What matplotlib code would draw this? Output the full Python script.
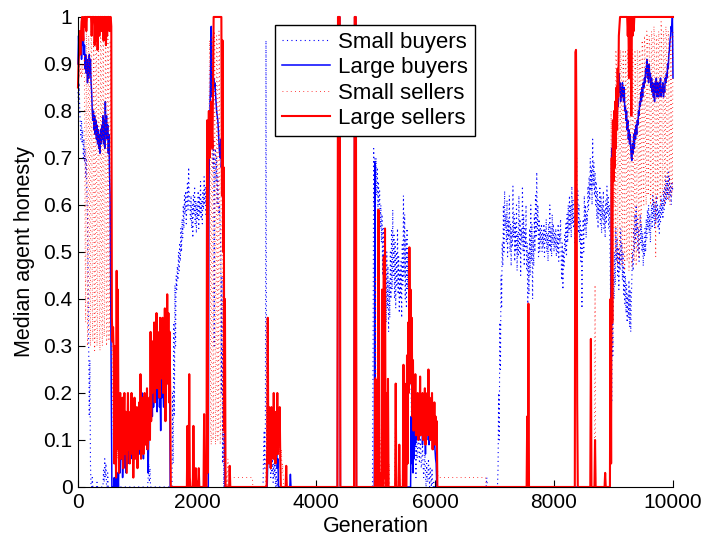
import matplotlib
matplotlib.use('Agg')
import matplotlib.pyplot as plt

plt.rcParams['font.family'] = ['Liberation Sans', 'DejaVu Sans']

# every segment is sampled every STEP generations from its start
STEP = 10

# Large sellers (red solid)
large_sellers_start = [0, 1830, 3170, 4360, 4640, 4990, 7540, 8350, 8610, 8850, 10000]
large_sellers_vals = [
    [0.85, 0.9, 0.93, 0.97, 0.92, 0.96, 0.99, 1.0, 0.97, 0.95,
     1.0, 0.98, 1.0, 1.0, 0.97, 1.0, 1.0, 1.0, 1.0, 1.0,
     1.0, 1.0, 1.0, 0.96, 1.0, 1.0, 1.0, 1.0, 0.94, 1.0,
     1.0, 0.95, 1.0, 0.93, 1.0, 1.0, 0.96, 1.0, 1.0, 1.0,
     0.97, 1.0, 1.0, 0.95, 1.0, 1.0, 1.0, 0.94, 1.0, 0.96,
     1.0, 1.0, 1.0, 0.97, 1.0, 1.0, 0.98, 0.36, 0.31, 0.34,
     0.28, 0.05, 0.3, 0.12, 0.02, 0.46, 0.08, 0.42, 0.15, 0.03,
     0.13, 0.2, 0.06, 0.15, 0.09, 0.19, 0.04, 0.13, 0.2, 0.07,
     0.16, 0.1, 0.03, 0.12, 0.2, 0.08, 0.14, 0.05, 0.16, 0.1,
     0.2, 0.07, 0.13, 0.02, 0.11, 0.19, 0.06, 0.15, 0.09, 0.17,
     0.04, 0.14, 0.08, 0.18, 0.1, 0.24, 0.06, 0.15, 0.11, 0.19,
     0.07, 0.13, 0.2, 0.09, 0.17, 0.12, 0.21, 0.08, 0.16, 0.11,
     0.19, 0.1, 0.33, 0.14, 0.28, 0.2, 0.31, 0.22, 0.35, 0.18,
     0.3, 0.24, 0.37, 0.21, 0.33, 0.26, 0.29, 0.19, 0.36, 0.23,
     0.34, 0.27, 0.36, 0.2, 0.32, 0.25, 0.38, 0.14, 0.35, 0.24,
     0.41, 0.22, 0.37, 0.18, 0.33, 0.2, 0.0],
    [0.0, 0.13, 0.0, 0.0, 0.24, 0.02, 0.0, 0.0, 0.0, 0.0,
     0.0, 0.13, 0.02, 0.0, 0.0, 0.04, 0.0, 0.0, 0.0, 0.0,
     0.04, 0.0, 0.0, 0.0, 0.0, 0.0, 0.0, 0.0, 0.0, 0.155,
     0.0, 0.0, 0.0, 0.0, 0.78, 0.03, 0.74, 0.8, 0.7, 0.79,
     0.73, 0.82, 0.76, 0.72, 0.85, 1.0, 1.0, 1.0, 1.0, 1.0,
     1.0, 1.0, 1.0, 1.0, 1.0, 1.0, 1.0, 1.0, 1.0, 0.62,
     0.95, 0.5, 0.68, 0.12, 0.4, 0.0, 0.0, 0.0, 0.0, 0.0,
     0.0, 0.0, 0.045, 0.0],
    [0.0, 0.08, 0.36, 0.05, 0.17, 0.07, 0.14, 0.04, 0.17, 0.1,
     0.15, 0.06, 0.2, 0.08, 0.13, 0.05, 0.16, 0.09, 0.2, 0.07,
     0.14, 0.1, 0.17, 0.06, 0.0, 0.0, 0.0, 0.0, 0.0, 0.0,
     0.0, 0.0, 0.0, 0.045, 0.0],
    [0.0, 1.0, 1.0, 1.0, 1.0, 0.0],
    [0.0, 1.0, 1.0, 1.0, 0.0],
    [0.0, 0.23, 0.0, 0.0, 0.0, 0.0, 0.59, 0.0, 0.0, 0.0,
     0.03, 0.0, 0.42, 0.0, 0.0, 0.49, 0.02, 0.55, 0.0, 0.0,
     0.2, 0.0, 0.23, 0.0, 0.0, 0.0, 0.0, 0.0, 0.0, 0.0,
     0.0, 0.0, 0.0, 0.0, 0.0, 0.22, 0.0, 0.0, 0.0, 0.0,
     0.0, 0.09, 0.0, 0.0, 0.0, 0.0, 0.0, 0.0, 0.26, 0.0,
     0.22, 0.0, 0.0, 0.0, 0.28, 0.05, 0.35, 0.2, 0.51, 0.3,
     0.42, 0.22, 0.36, 0.15, 0.27, 0.12, 0.21, 0.14, 0.24, 0.11,
     0.19, 0.13, 0.2, 0.1, 0.17, 0.12, 0.235, 0.11, 0.19, 0.14,
     0.2, 0.1, 0.18, 0.12, 0.21, 0.09, 0.17, 0.13, 0.2, 0.11,
     0.25, 0.12, 0.19, 0.1, 0.17, 0.13, 0.2, 0.08, 0.16, 0.11,
     0.18, 0.09, 0.15, 0.1, 0.14, 0.0, 0.0],
    [0.0, 0.15, 0.0, 0.39, 0.0, 0.0],
    [0.0, 0.925, 0.93, 0.71, 0.18, 0.0],
    [0.0, 0.315, 0.0, 0.0, 0.0, 0.0, 0.0, 0.0, 0.1, 0.0],
    [0.0, 0.03, 0.0, 0.0, 0.0, 0.0, 0.0, 0.0, 0.0, 0.0,
     0.4, 0.05, 0.7, 0.35, 0.78, 0.65, 0.8, 0.68, 0.82, 0.72,
     0.85, 0.76, 0.89, 0.83, 0.96, 0.98, 1.0, 1.0, 1.0, 1.0,
     1.0, 1.0, 1.0, 1.0, 1.0, 1.0, 1.0, 1.0, 1.0, 0.96,
     1.0, 0.87, 1.0, 0.97, 1.0, 0.79, 1.0, 0.96, 1.0, 0.97,
     1.0],
    [1.0],
]

# Large buyers (blue solid)
large_buyers_start = [0, 2190, 3180, 3560, 4360, 4640, 4980, 5590, 8940]
large_buyers_vals = [
    [0.9, 0.96, 0.92, 0.97, 0.93, 0.96, 0.91, 0.95, 0.94, 0.97,
     0.92, 0.94, 0.89, 0.92, 0.88, 0.91, 0.86, 0.9, 0.87, 0.92,
     0.88, 0.91, 0.86, 0.84, 0.8, 0.78, 0.8, 0.76, 0.79, 0.75,
     0.78, 0.74, 0.77, 0.73, 0.76, 0.72, 0.75, 0.71, 0.76, 0.73,
     0.77, 0.74, 0.79, 0.73, 0.78, 0.72, 0.82, 0.75, 0.79, 0.74,
     0.77, 0.71, 0.75, 0.67, 0.62, 0.4, 0.2, 0.0, 0.0, 0.0,
     0.0, 0.02, 0.0, 0.0, 0.05, 0.01, 0.0, 0.03, 0.0, 0.06,
     0.1, 0.03, 0.12, 0.06, 0.15, 0.02, 0.09, 0.04, 0.13, 0.06,
     0.1, 0.03, 0.08, 0.12, 0.05, 0.09, 0.14, 0.07, 0.11, 0.06,
     0.13, 0.08, 0.15, 0.05, 0.1, 0.07, 0.17, 0.09, 0.13, 0.06,
     0.11, 0.08, 0.16, 0.07, 0.12, 0.09, 0.23, 0.1, 0.2, 0.12,
     0.06, 0.14, 0.09, 0.17, 0.11, 0.15, 0.08, 0.13, 0.03, 0.11,
     0.16, 0.12, 0.19, 0.14, 0.21, 0.15, 0.25, 0.17, 0.22, 0.18,
     0.27, 0.2, 0.24, 0.16, 0.26, 0.19, 0.23, 0.17, 0.21, 0.12,
     0.24, 0.19, 0.26, 0.2, 0.17, 0.25, 0.21, 0.28, 0.19, 0.26,
     0.22, 0.3, 0.24, 0.27, 0.31, 0.0],
    [0.0, 0.6, 0.75, 0.8, 0.9, 0.98, 0.83, 0.88, 0.82, 0.87,
     0.85, 0.86, 0.84, 0.82, 0.8, 0.79, 0.78, 0.76, 0.73, 0.71,
     0.7, 0.74, 0.68, 0.7, 0.62, 0.6, 0.54, 0.3, 0.0],
    [0.0, 0.06, 0.1, 0.07, 0.12, 0.08, 0.11, 0.06, 0.09, 0.07,
     0.1, 0.06, 0.08, 0.05, 0.09, 0.06, 0.08, 0.04, 0.06, 0.0],
    [0.0, 0.027, 0.0],
    [0.0, 1.0, 1.0, 1.0, 1.0, 0.0],
    [0.0, 1.0, 1.0, 1.0, 0.0],
    [0.0, 0.69, 0.0],
    [0.0, 0.15, 0.05, 0.19, 0.03, 0.12, 0.06, 0.15, 0.09, 0.17,
     0.1, 0.18, 0.12, 0.16, 0.1, 0.14, 0.11, 0.17, 0.12, 0.15,
     0.09, 0.14, 0.11, 0.16, 0.12, 0.07, 0.13, 0.1, 0.15, 0.11,
     0.14, 0.09, 0.12, 0.13, 0.1, 0.11, 0.12, 0.09, 0.08, 0.1,
     0.11, 0.08, 0.06, 0.05, 0.0],
    [0.0, 0.3, 0.55, 0.72, 0.68, 0.78, 0.71, 0.76, 0.7, 0.79,
     0.74, 0.8, 0.77, 0.83, 0.81, 0.88, 0.84, 0.86, 0.82, 0.85,
     0.83, 0.86, 0.84, 0.82, 0.85, 0.8, 0.81, 0.78, 0.8, 0.76,
     0.78, 0.74, 0.76, 0.73, 0.75, 0.72, 0.7, 0.695, 0.73, 0.71,
     0.75, 0.72, 0.76, 0.74, 0.77, 0.75, 0.78, 0.77, 0.8, 0.79,
     0.82, 0.81, 0.84, 0.82, 0.85, 0.83, 0.86, 0.85, 0.87, 0.86,
     0.89, 0.88, 0.91, 0.87, 0.89, 0.86, 0.9, 0.87, 0.88, 0.85,
     0.87, 0.84, 0.86, 0.83, 0.85, 0.82, 0.86, 0.84, 0.87, 0.83,
     0.86, 0.85, 0.83, 0.86, 0.84, 0.87, 0.83, 0.85, 0.84, 0.86,
     0.83, 0.85, 0.84, 0.87, 0.86, 0.88, 0.87, 0.9, 0.89, 0.92,
     0.93, 0.95, 0.96, 0.98, 0.97, 1.0, 0.87],
]

# Small buyers (blue dotted)
small_buyers_start = [0, 1170, 1580, 3110, 4950, 6860, 7050]
small_buyers_vals = [
    [0.84, 0.81, 0.86, 0.8, 0.77, 0.74, 0.78, 0.73, 0.76, 0.7,
     0.74, 0.69, 0.72, 0.66, 0.7, 0.62, 0.58, 0.45, 0.3, 0.15,
     0.27, 0.05, 0.0, 0.0, 0.02, 0.0, 0.0, 0.0, 0.0, 0.0,
     0.0, 0.0, 0.01, 0.0, 0.0, 0.0, 0.0, 0.0, 0.0, 0.0,
     0.0, 0.0, 0.0, 0.04, 0.01, 0.06, 0.02, 0.05, 0.0, 0.0,
     0.03, 0.0, 0.0],
    [0.0, 0.02, 0.05, 0.01, 0.04, 0.0],
    [0.0, 0.2, 0.05, 0.35, 0.15, 0.43, 0.3, 0.45, 0.42, 0.47,
     0.44, 0.5, 0.46, 0.52, 0.48, 0.55, 0.5, 0.57, 0.53, 0.6,
     0.55, 0.62, 0.58, 0.63, 0.56, 0.61, 0.65, 0.59, 0.68, 0.62,
     0.6, 0.57, 0.62, 0.55, 0.6, 0.53, 0.62, 0.58, 0.64, 0.56,
     0.61, 0.54, 0.6, 0.57, 0.63, 0.55, 0.62, 0.58, 0.65, 0.57,
     0.61, 0.56, 0.63, 0.59, 0.66, 0.6, 0.64, 0.58, 0.62, 0.67,
     0.72, 0.66, 0.78, 0.7, 0.83, 0.75, 0.8, 0.72, 0.77, 0.68,
     0.74, 0.3, 0.7, 0.72, 0.65, 0.7, 0.6, 0.66, 0.62, 0.58,
     0.6, 0.55, 0.5, 0.2, 0.45, 0.05, 0.3, 0.0, 0.22, 0.0],
    [0.0, 0.08, 0.12, 0.04, 0.14, 0.95, 0.06, 0.1, 0.15, 0.06,
     0.12, 0.04, 0.09, 0.02, 0.07, 0.03, 0.06, 0.01, 0.05, 0.02,
     0.05, 0.0, 0.04, 0.0, 0.02, 0.0, 0.0],
    [0.0, 0.3, 0.72, 0.6, 0.7, 0.65, 0.7, 0.62, 0.68, 0.58,
     0.65, 0.6, 0.63, 0.55, 0.6, 0.52, 0.58, 0.45, 0.55, 0.3,
     0.5, 0.2, 0.45, 0.35, 0.5, 0.38, 0.47, 0.33, 0.44, 0.36,
     0.5, 0.4, 0.55, 0.42, 0.59, 0.45, 0.54, 0.4, 0.52, 0.38,
     0.5, 0.43, 0.55, 0.41, 0.49, 0.37, 0.46, 0.4, 0.48, 0.36,
     0.52, 0.43, 0.62, 0.45, 0.58, 0.4, 0.53, 0.38, 0.55, 0.42,
     0.5, 0.36, 0.47, 0.3, 0.4, 0.2, 0.1, 0.03, 0.15, 0.06,
     0.17, 0.08, 0.12, 0.02, 0.1, 0.06, 0.09, 0.13, 0.07, 0.05,
     0.11, 0.08, 0.04, 0.06, 0.09, 0.05, 0.02, 0.04, 0.07, 0.03,
     0.0, 0.05, 0.02, 0.01, 0.06, 0.03, 0.0, 0.04, 0.02, 0.0,
     0.04, 0.0, 0.0, 0.01, 0.0, 0.0],
    [0.0, 0.02, 0.0],
    [0.0, 0.04, 0.2, 0.1, 0.35, 0.25, 0.45, 0.38, 0.52, 0.47,
     0.6, 0.5, 0.63, 0.55, 0.58, 0.52, 0.61, 0.49, 0.57, 0.53,
     0.62, 0.5, 0.56, 0.47, 0.55, 0.51, 0.64, 0.53, 0.58, 0.48,
     0.56, 0.5, 0.6, 0.46, 0.54, 0.49, 0.62, 0.5, 0.57, 0.45,
     0.55, 0.52, 0.64, 0.5, 0.58, 0.47, 0.55, 0.51, 0.6, 0.46,
     0.52, 0.38, 0.5, 0.41, 0.55, 0.45, 0.6, 0.48, 0.56, 0.4,
     0.53, 0.47, 0.58, 0.5, 0.62, 0.53, 0.67, 0.55, 0.6, 0.49,
     0.57, 0.5, 0.55, 0.52, 0.56, 0.5, 0.54, 0.51, 0.56, 0.49,
     0.55, 0.52, 0.57, 0.5, 0.54, 0.48, 0.56, 0.51, 0.6, 0.5,
     0.55, 0.49, 0.58, 0.52, 0.56, 0.5, 0.54, 0.51, 0.55, 0.49,
     0.53, 0.5, 0.56, 0.48, 0.54, 0.52, 0.57, 0.49, 0.44, 0.52,
     0.42, 0.5, 0.47, 0.54, 0.5, 0.56, 0.49, 0.58, 0.52, 0.6,
     0.54, 0.62, 0.55, 0.6, 0.53, 0.64, 0.56, 0.61, 0.55, 0.58,
     0.52, 0.57, 0.6, 0.7, 0.58, 0.63, 0.54, 0.6, 0.52, 0.57,
     0.48, 0.55, 0.38, 0.52, 0.57, 0.5, 0.62, 0.55, 0.6, 0.53,
     0.58, 0.56, 0.64, 0.59, 0.66, 0.61, 0.7, 0.63, 0.68, 0.6,
     0.74, 0.64, 0.69, 0.62, 0.67, 0.6, 0.65, 0.57, 0.63, 0.55,
     0.61, 0.58, 0.64, 0.56, 0.62, 0.54, 0.6, 0.57, 0.63, 0.55,
     0.59, 0.53, 0.61, 0.56, 0.64, 0.58, 0.62, 0.55, 0.6, 0.52,
     0.4, 0.3, 0.18, 0.35, 0.28, 0.45, 0.4, 0.5, 0.43, 0.55,
     0.48, 0.53, 0.45, 0.51, 0.42, 0.5, 0.46, 0.55, 0.48, 0.52,
     0.44, 0.5, 0.41, 0.47, 0.39, 0.45, 0.37, 0.43, 0.35, 0.41,
     0.36, 0.44, 0.34, 0.42, 0.33, 0.4, 0.45, 0.5, 0.46, 0.55,
     0.5, 0.58, 0.52, 0.6, 0.54, 0.57, 0.5, 0.55, 0.48, 0.53,
     0.58, 0.52, 0.56, 0.5, 0.54, 0.47, 0.52, 0.49, 0.55, 0.5,
     0.57, 0.53, 0.59, 0.55, 0.6, 0.54, 0.58, 0.52, 0.57, 0.6,
     0.55, 0.62, 0.57, 0.61, 0.55, 0.6, 0.56, 0.62, 0.57, 0.6,
     0.55, 0.59, 0.54, 0.6, 0.56, 0.62, 0.58, 0.61, 0.57, 0.63,
     0.59, 0.64, 0.6, 0.66, 0.61, 0.65, 0.62, 0.67, 0.61, 0.66,
     0.62, 0.64, 0.6, 0.65, 0.63, 0.64],
]

# Small sellers (red dotted)
small_sellers_start = [0, 2160, 2930, 3150, 4990, 6850, 8680, 8940]
small_sellers_vals = [
    [0.86, 0.88, 0.87, 0.9, 0.88, 0.89, 0.87, 0.9, 0.88, 0.89,
     0.9, 0.92, 0.5, 0.35, 0.97, 0.93, 0.3, 0.36, 0.96, 0.9,
     0.33, 0.3, 0.97, 0.94, 0.38, 0.31, 0.95, 0.92, 0.29, 0.34,
     0.96, 0.97, 0.3, 0.36, 0.98, 0.92, 0.33, 0.29, 0.96, 0.94,
     0.35, 0.3, 0.97, 0.95, 0.32, 0.37, 0.96, 0.93, 0.3, 0.33,
     0.97, 0.94, 0.31, 0.36, 0.95, 0.9, 0.35, 0.3, 0.2, 0.12,
     0.08, 0.15, 0.05, 0.18, 0.1, 0.3, 0.06, 0.25, 0.12, 0.04,
     0.14, 0.18, 0.07, 0.13, 0.1, 0.17, 0.05, 0.12, 0.16, 0.08,
     0.14, 0.09, 0.05, 0.11, 0.17, 0.1, 0.13, 0.07, 0.15, 0.09,
     0.17, 0.08, 0.12, 0.04, 0.1, 0.16, 0.08, 0.13, 0.1, 0.15,
     0.06, 0.12, 0.09, 0.16, 0.1, 0.2, 0.08, 0.13, 0.12, 0.17,
     0.09, 0.12, 0.18, 0.1, 0.15, 0.13, 0.19, 0.1, 0.14, 0.12,
     0.17, 0.12, 0.28, 0.16, 0.25, 0.2, 0.28, 0.21, 0.3, 0.19,
     0.27, 0.23, 0.32, 0.22, 0.3, 0.25, 0.27, 0.2, 0.32, 0.24,
     0.3, 0.26, 0.33, 0.22, 0.29, 0.25, 0.34, 0.18, 0.31, 0.24,
     0.36, 0.23, 0.33, 0.2, 0.3, 0.15, 0.0],
    [0.0, 0.05, 0.3, 0.5, 0.7, 0.95, 0.9, 0.12, 0.09, 0.96,
     0.93, 0.1, 0.14, 0.97, 0.95, 0.09, 0.12, 0.96, 0.94, 0.1,
     0.13, 0.97, 0.92, 0.09, 0.15, 0.95, 0.9, 0.1, 0.4, 0.05,
     0.2, 0.0, 0.02, 0.0, 0.03, 0.0, 0.06, 0.02, 0.02, 0.02,
     0.02],
    [0.02, 0.0],
    [0.0, 0.05, 0.1, 0.3, 0.08, 0.16, 0.06, 0.13, 0.05, 0.15,
     0.09, 0.14, 0.06, 0.17, 0.08, 0.12, 0.05, 0.14, 0.1, 0.18,
     0.07, 0.13, 0.09, 0.16, 0.06, 0.1, 0.05, 0.08, 0.03, 0.05,
     0.02, 0.0],
    [0.0, 0.45, 0.0, 0.05, 0.0, 0.3, 0.55, 0.2, 0.0, 0.1,
     0.0, 0.15, 0.38, 0.05, 0.2, 0.45, 0.0, 0.5, 0.1, 0.0,
     0.18, 0.0, 0.2, 0.0, 0.05, 0.0, 0.0, 0.0, 0.0, 0.0,
     0.0, 0.0, 0.0, 0.0, 0.1, 0.2, 0.05, 0.0, 0.0, 0.0,
     0.0, 0.08, 0.0, 0.0, 0.0, 0.0, 0.0, 0.1, 0.24, 0.12,
     0.2, 0.05, 0.0, 0.1, 0.26, 0.15, 0.32, 0.25, 0.45, 0.33,
     0.38, 0.25, 0.33, 0.18, 0.25, 0.15, 0.2, 0.16, 0.22, 0.13,
     0.18, 0.15, 0.19, 0.12, 0.16, 0.13, 0.21, 0.12, 0.18, 0.15,
     0.19, 0.12, 0.17, 0.13, 0.2, 0.11, 0.16, 0.14, 0.19, 0.12,
     0.22, 0.13, 0.18, 0.11, 0.16, 0.14, 0.19, 0.1, 0.15, 0.12,
     0.17, 0.1, 0.14, 0.11, 0.13, 0.05, 0.02, 0.02],
    [0.02, 0.0],
    [0.0, 0.43, 0.0],
    [0.0, 0.2, 0.8, 0.5, 0.75, 0.3, 0.7, 0.6, 0.78, 0.5,
     0.93, 0.9, 0.5, 0.47, 0.93, 0.92, 0.48, 0.52, 0.93, 0.9,
     0.47, 0.5, 0.93, 0.91, 0.49, 0.46, 0.93, 0.92, 0.5, 0.48,
     0.93, 0.9, 0.46, 0.5, 0.93, 0.92, 0.48, 0.47, 0.93, 0.91,
     0.5, 0.48, 0.93, 0.9, 0.47, 0.52, 0.93, 0.92, 0.49, 0.5,
     0.93, 0.91, 0.55, 0.6, 0.95, 0.94, 0.62, 0.6, 0.96, 0.93,
     0.63, 0.6, 0.97, 0.95, 0.62, 0.64, 0.96, 0.94, 0.6, 0.63,
     0.97, 0.95, 0.62, 0.6, 0.98, 0.94, 0.63, 0.49, 0.96, 0.95,
     0.61, 0.64, 0.97, 0.95, 0.62, 0.6, 0.99, 0.96, 0.63, 0.62,
     0.97, 0.95, 0.6, 0.64, 0.98, 0.96, 0.62, 0.61, 0.97, 0.94,
     0.63, 0.6, 0.96, 0.95, 0.62, 0.64, 0.97],
]


def build(starts, segs):
    gx = []
    gy = []
    for s, vals in zip(starts, segs):
        for i, v in enumerate(vals):
            gx.append(s + STEP * i)
            gy.append(v)
    return gx, gy


sb_x, sb_y = build(small_buyers_start, small_buyers_vals)
lb_x, lb_y = build(large_buyers_start, large_buyers_vals)
ss_x, ss_y = build(small_sellers_start, small_sellers_vals)
ls_x, ls_y = build(large_sellers_start, large_sellers_vals)

fig = plt.figure(figsize=(7.05, 5.44), dpi=100)
ax = fig.add_axes([0.1106, 0.1048, 0.844, 0.864])

dots = (0, (1, 3))
ax.plot(sb_x, sb_y, color='blue', linestyle=dots, linewidth=0.8, label='Small buyers', clip_on=False)
ax.plot(lb_x, lb_y, color='blue', linewidth=1.1, label='Large buyers', clip_on=False)
ax.plot(ss_x, ss_y, color='red', linestyle=(0, (1, 4)), linewidth=0.6, label='Small sellers', clip_on=False)
ax.plot(ls_x, ls_y, color='red', linewidth=1.5, label='Large sellers', clip_on=False)

ax.set_xlim(0, 10000)
ax.set_ylim(0, 1)
ax.set_xticks([0, 2000, 4000, 6000, 8000, 10000])
ax.set_yticks([0, 0.1, 0.2, 0.3, 0.4, 0.5, 0.6, 0.7, 0.8, 0.9, 1])
ax.set_yticklabels(['0', '0.1', '0.2', '0.3', '0.4', '0.5', '0.6', '0.7', '0.8', '0.9', '1'])
ax.spines['top'].set_visible(False)
ax.spines['right'].set_visible(False)
ax.tick_params(direction='in', length=5, labelsize=15, pad=4)
ax.set_xlabel('Generation', fontsize=15.5, labelpad=3)
ax.set_ylabel('Median agent honesty', fontsize=15.5, labelpad=6)

leg = ax.legend(loc='upper left', bbox_to_anchor=(0.331, 0.983), fontsize=16,
                fancybox=False, framealpha=1, edgecolor='black',
                borderpad=0.3, labelspacing=0.2, handlelength=2.2,
                handletextpad=0.35, borderaxespad=0)
leg.get_frame().set_linewidth(1.0)

plt.savefig('out.png', dpi=100)
